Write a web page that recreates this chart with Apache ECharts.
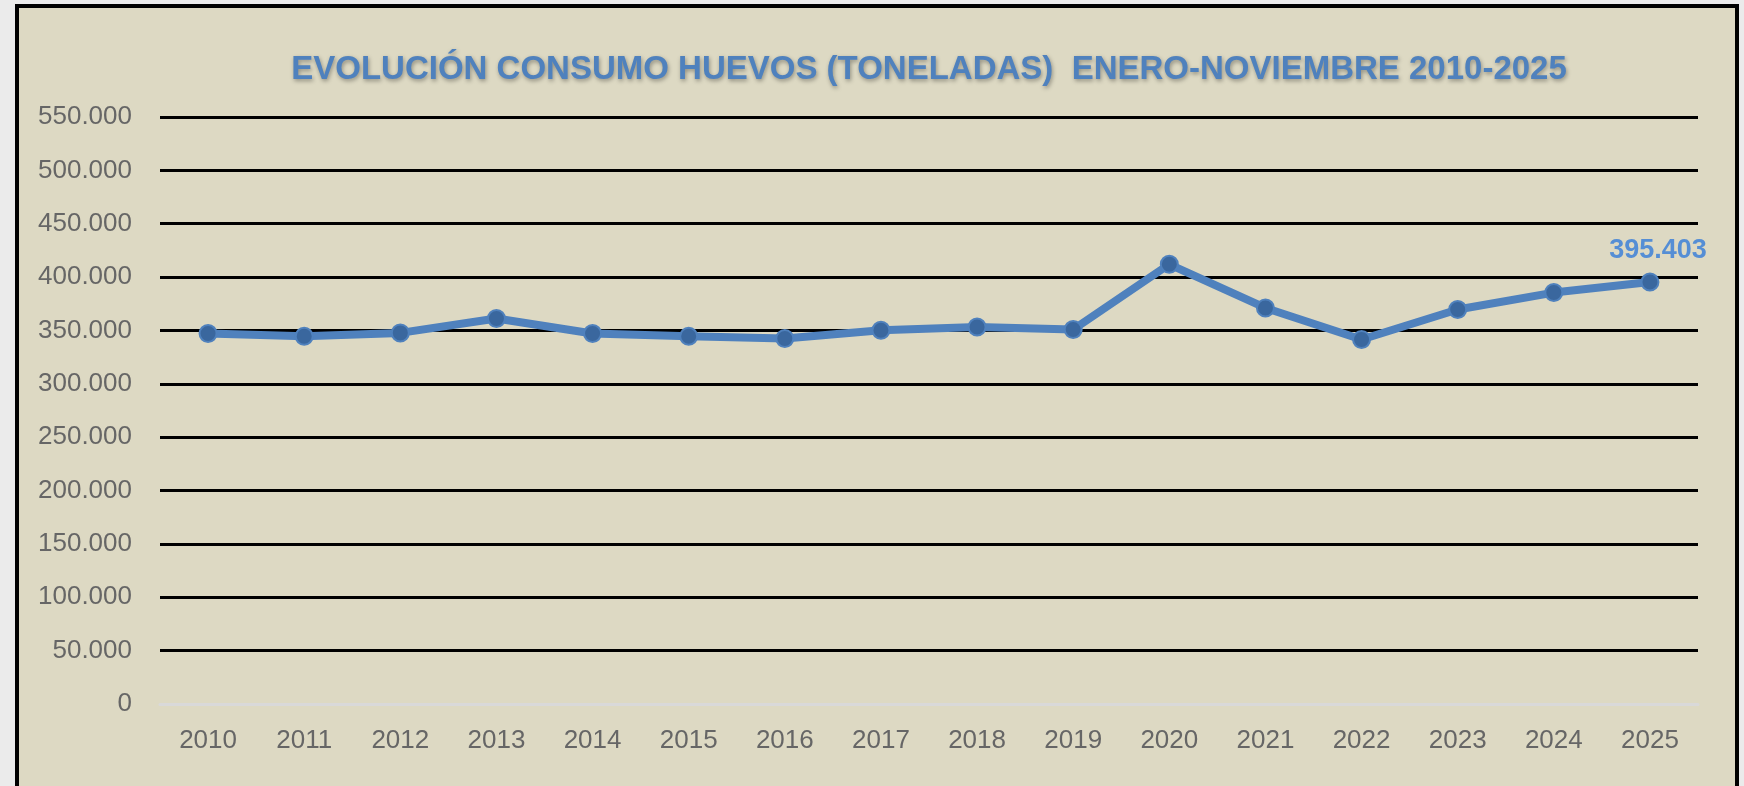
<!DOCTYPE html>
<html lang="es">
<head>
    <meta charset="UTF-8">
    <title>Evolución consumo huevos</title>
    <script src="https://cdn.jsdelivr.net/npm/echarts@6/dist/echarts.min.js"></script>
    <style>
        html, body { margin: 0; padding: 0; overflow: hidden; background: #ebebeb; }
        #frame {
            position: absolute; left: 15px; top: 4px; width: 1716px; height: 800px;
            background: #ddd9c3; border: 4px solid #000;
        }
        #main { position: absolute; left: 0; top: 0; width: 1744px; height: 786px; }
    </style>
</head>
<body>
<div id="frame"></div>
<div id="main"></div>
<script>
    // años y toneladas (enero-noviembre)
    const years = ['2010', '2011', '2012', '2013', '2014', '2015', '2016', '2017',
        '2018', '2019', '2020', '2021', '2022', '2023', '2024', '2025'];
    const tonnes = [347100, 344600, 347700, 361200, 347100, 344600, 342400, 350200,
        353300, 350900, 412000, 371100, 341500, 369600, 385500, 395403];
    const yMax = 550000;
    const yStep = 50000;

    function fmt(v) {
        return String(Math.round(v)).replace(/\B(?=(\d{3})+(?!\d))/g, '.');
    }

    let myChart = echarts.init(document.getElementById('main'));

    let option = {
        backgroundColor: 'transparent',
        animation: false,
        title: {
            text: 'EVOLUCIÓN CONSUMO HUEVOS (TONELADAS)  ENERO-NOVIEMBRE 2010-2025',
            left: 924,
            top: 48,
            textAlign: 'center',
            textStyle: {
                color: '#4f81bd',
                fontFamily: 'Liberation Sans',
                fontWeight: 'bold',
                fontSize: 33,
                textShadowColor: 'rgba(0,0,0,0.35)',
                textShadowBlur: 4,
                textShadowOffsetX: 1,
                textShadowOffsetY: 2
            }
        },
        grid: {
            left: 160,
            right: 46,
            top: 117,
            bottom: 82
        },
        xAxis: {
            type: 'category',
            data: years,
            boundaryGap: true,
            axisLine: { show: true, lineStyle: { color: '#d9d9d9', width: 3 } },
            axisTick: { show: false },
            axisLabel: {
                color: '#666666',
                fontFamily: 'Liberation Sans',
                fontSize: 26,
                margin: 24
            }
        },
        yAxis: {
            type: 'value',
            min: 0,
            max: yMax,
            interval: yStep,
            axisLine: { show: false },
            axisTick: { show: false },
            axisLabel: {
                color: '#666666',
                fontFamily: 'Liberation Sans',
                fontSize: 26,
                margin: 28,
                formatter: fmt
            },
            splitLine: {
                lineStyle: { color: '#000000', width: 3 }
            }
        },
        series: [
            {
                name: 'Toneladas',
                type: 'line',
                data: tonnes,
                symbol: 'circle',
                symbolSize: 17,
                z: 5,
                lineStyle: { color: '#4f81bd', width: 8 },
                itemStyle: { color: '#3a679e', borderColor: '#4f81bd', borderWidth: 2 },
                label: {
                    show: true,
                    position: 'top',
                    distance: 8,
                    offset: [8, 0],
                    color: '#558ed5',
                    fontFamily: 'Liberation Sans',
                    fontWeight: 'bold',
                    fontSize: 27,
                    formatter: function (p) {
                        return p.dataIndex === tonnes.length - 1 ? fmt(p.value) : '';
                    }
                }
            }
        ]
    };

    myChart.setOption(option);
</script>
</body>
</html>
